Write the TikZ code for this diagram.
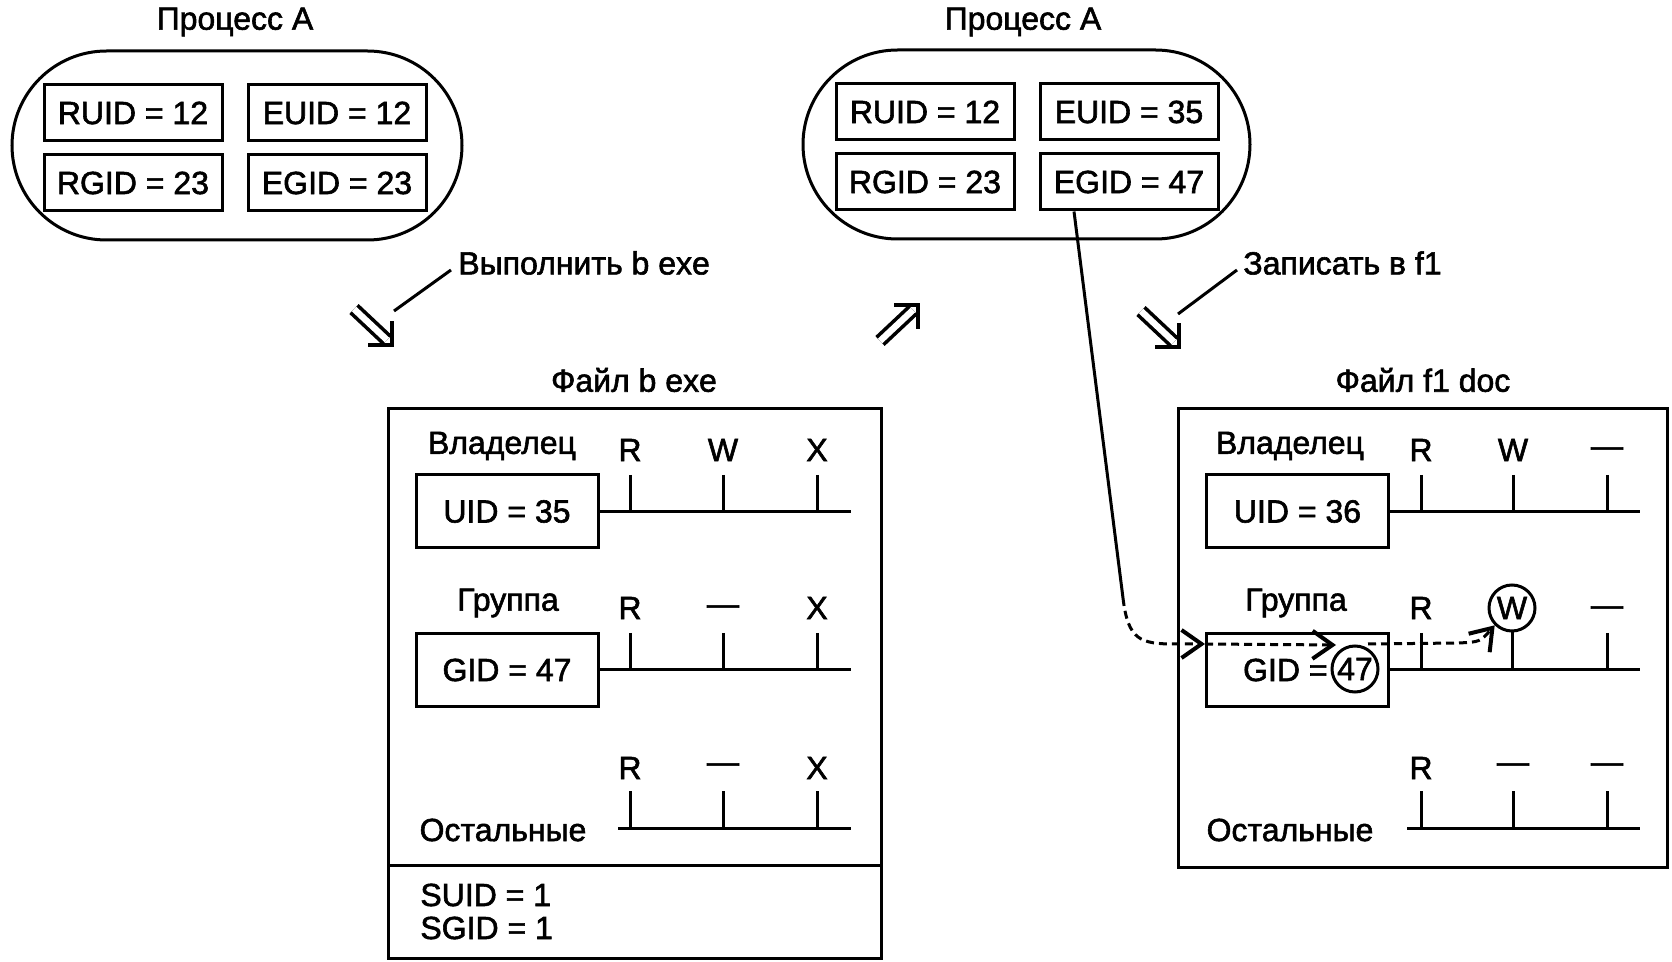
\documentclass[tikz,border=0pt]{standalone}
\usepackage{fontspec}
\setmainfont{Liberation Sans}[FakeBold=1.8]
\usetikzlibrary{arrows.meta,shapes.misc}
\begin{document}
\begin{tikzpicture}[x=0.5pt,y=-0.5pt,
  every node/.style={font=\fontsize{16}{19}\selectfont, inner sep=0pt},
  lw/.style={line width=1.5pt},
  idbox/.style={draw, lw, minimum width=89pt, minimum height=28pt},
  fbox/.style={draw, lw, minimum width=91pt, minimum height=36.5pt},
  proc/.style={draw, lw, rounded rectangle, minimum height=94.5pt},
  shaft/.style={double, double distance=3.2pt, line width=1.8pt},
  head/.style={line width=1.9pt, line cap=rect},
  ring/.style={draw, lw, circle, minimum size=23pt},
  dsh/.style={lw, dash pattern=on 4pt off 2.5pt},
  tip/.style={-{Straight Barb[length=10pt,width=14pt,line width=2pt]}}
]
\useasboundingbox (0,0) rectangle (1672,962);

% ---------- left process ----------
\node (t1) at (235,22) {Процесс А};
\node[proc, minimum width=225pt] (p1) at (237,145.5) {};
\node[idbox] (ruid1) at (133,113) {RUID = 12};
\node[idbox] (euid1) at (337,113) {EUID = 12};
\node[idbox] (rgid1) at (133,183) {RGID = 23};
\node[idbox] (egid1) at (337,183) {EGID = 23};

% ---------- right process ----------
\node (t2) at (1023,22) {Процесс А};
\node[proc, minimum width=223.5pt] (p2) at (1026.5,144.5) {};
\node[idbox] (ruid2) at (925,112) {RUID = 12};
\node[idbox] (euid2) at (1129,112) {EUID = 35};
\node[idbox] (rgid2) at (925,182) {RGID = 23};
\node[idbox] (egid2) at (1129,182) {EGID = 47};

% ---------- labels and double arrows ----------
\node[anchor=west] (l1) at (458,263) {Выполнить b exe};
\coordinate (l1a) at (451,270);
\coordinate (l1b) at (394,311);
\draw[lw] (l1a) -- (l1b);
\coordinate (T1) at (392,345);
\draw[shaft] (354,309) -- (387,340);
\draw[head] (370,345) -- (T1) -- (392,323);

\coordinate (T2) at (918,305);
\draw[shaft] (880,341) -- (913,310);
\draw[head] (896,305) -- (T2) -- (918,327);

\node[anchor=west] (l2) at (1243,263) {Записать в f1};
\coordinate (l2a) at (1237,270);
\coordinate (l2b) at (1178,314);
\draw[lw] (l2a) -- (l2b);
\coordinate (T3) at (1179,347);
\draw[shaft] (1141,311) -- (1174,342);
\draw[head] (1157,347) -- (T3) -- (1179,325);

% ---------- file b exe ----------
\node (fb) at (634,380) {Файл b exe};
\node[draw, lw, minimum width=246.5pt, minimum height=274.5pt] (boxb) at (634.5,683.5) {};
\draw[lw] (388,865) -- (881,865);
\node (ownb) at (502,446) {Владелец};
\node (grpb) at (508,603) {Группа};
\node (othb) at (503,830) {Остальные};
\node[fbox] (uidb) at (507,511.5) {UID = 35};
\node[fbox] (gidb) at (507,670) {GID = 47};
\node (b1r) at (630,450) {R};
\node (b1w) at (723,450) {W};
\node (b1x) at (817,450) {X};
\node (b2r) at (630,608) {R};
\node (b2w) at (723,610) {—};
\node (b2x) at (817,608) {X};
\node (b3r) at (630,768) {R};
\node (b3w) at (723,768) {—};
\node (b3x) at (817,768) {X};
\draw[lw] (uidb.east) -- (851,511.5);
\draw[lw] (630,475) -- (630,511.5) (723,475) -- (723,511.5) (817,475) -- (817,511.5);
\draw[lw] (gidb.east) -- (851,670);
\draw[lw] (630,633) -- (630,670) (723,633) -- (723,670) (817,633) -- (817,670);
\draw[lw] (618,828) -- (851,828);
\draw[lw] (630,791) -- (630,828) (723,791) -- (723,828) (817,791) -- (817,828);
\node[anchor=west] (suid) at (420,895) {SUID = 1};
\node[anchor=west] (sgid) at (420,928) {SGID = 1};

% ---------- file f1 doc ----------
\node (ff) at (1423,380) {Файл f1 doc};
\node[draw, lw, minimum width=244.5pt, minimum height=229pt] (boxf) at (1422.5,638) {};
\node (ownf) at (1290,446) {Владелец};
\node (grpf) at (1296,603) {Группа};
\node (othf) at (1290,830) {Остальные};
\node[fbox] (uidf) at (1297.5,511.5) {UID = 36};
\node[fbox] (gidf) at (1297.5,670) {};
\node[anchor=east] (gidt) at (1328,670) {GID =};
\node[ring] (c47) at (1355,669) {47};
\node (f1r) at (1421,450) {R};
\node (f1w) at (1513,450) {W};
\node (f1x) at (1607,452) {—};
\node (f2r) at (1421,608) {R};
\node[ring] (cw) at (1512,608) {W};
\node (f2x) at (1607,611) {—};
\node (f3r) at (1421,768) {R};
\node (f3w) at (1513,768) {—};
\node (f3x) at (1607,768) {—};
\draw[lw] (uidf.east) -- (1640,511.5);
\draw[lw] (1421,475) -- (1421,511.5) (1513,475) -- (1513,511.5) (1607,475) -- (1607,511.5);
\draw[lw] (gidf.east) -- (1640,670);
\draw[lw] (1421,633) -- (1421,670) (cw.south) -- (1512,670) (1607,633) -- (1607,670);
\draw[lw] (1407,828) -- (1640,828);
\draw[lw] (1421,791) -- (1421,828) (1513,791) -- (1513,828) (1607,791) -- (1607,828);

% ---------- access path ----------
\coordinate (bend) at (1123,598);
\coordinate (g1) at (gidf.west |- 0,644);
\coordinate (g2) at (1336,645);
\coordinate (g3a) at (1368,644);
\coordinate (g3) at (1458,643);
\draw[lw] (egid2.south -| 1074,0) -- (bend);
\draw[dsh, tip] (bend) .. controls (1128,640) and (1140,644) .. (1175,644) -- (g1);
\draw[dsh, tip] (g1) -- (g2);
\draw[dsh, tip] (g3a) -- (g3) .. controls (1480,642) .. (cw.225);
\end{tikzpicture}
\end{document}
